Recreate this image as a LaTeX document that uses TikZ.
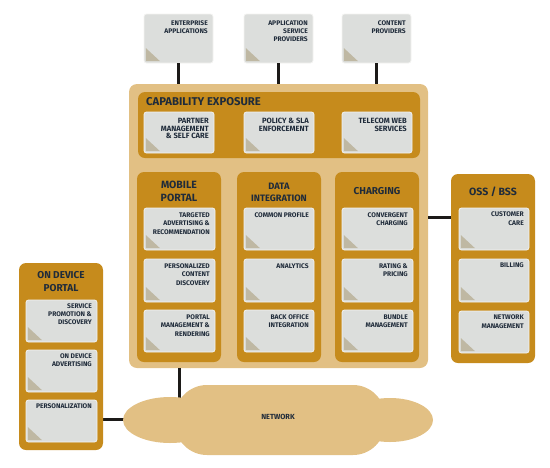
\documentclass[tikz,border=0pt]{standalone}
\usepackage{fontspec}
\setmainfont{Fira Sans}
\usetikzlibrary{calc}
\definecolor{outerc}{HTML}{E2C084}
\definecolor{goldc}{HTML}{C68B1C}
\definecolor{boxc}{HTML}{DCDEDC}
\definecolor{boxedge}{HTML}{F3F3F1}
\definecolor{tric}{HTML}{BFB8A3}
\definecolor{txtc}{HTML}{1F2B3A}
\definecolor{linec}{HTML}{1C1A18}
\tikzset{
  panel/.style={fill=goldc, draw=none, rounded corners=7pt, inner sep=0pt, outer sep=0pt, anchor=north west},
  outerbox/.style={fill=outerc, draw=none, rounded corners=8pt, inner sep=0pt, outer sep=0pt, anchor=north west},
  ibox/.style={fill=boxc, draw=boxedge, line width=0.8pt, rounded corners=2.5pt, anchor=north west, inner sep=0pt, outer sep=0pt},
  tri/.style={fill=tric},
  lbl/.style={anchor=north east, align=right, text=txtc, inner sep=0pt, font=\bfseries\fontsize{6.7}{8.2}\selectfont},
  biglbl/.style={lbl, font=\bfseries\fontsize{7.6}{7.6}\selectfont},
  ttl/.style={text=txtc, align=center, inner sep=0pt},
  conn/.style={draw=linec, line width=3pt},
  cloudc/.style={fill=outerc},
}
% #1 name, #2 x1, #3 y1, #4 x2, #5 y2, #6 text, #7 label style, #8 top offset
\newcommand\cellbox[8]{%
  \node[ibox, minimum width={#4-#2}, minimum height={#5-#3}] (#1) at (#2,#3) {};
  \fill[tri] ($(#1.south west)+(1.8,-2)$) -- ++(0,-13) -- ++(14,13) -- cycle;
  \node[#7] (#1-t) at ($(#1.north east)+(-5,#8)$) {#6};
}
\begin{document}
\begin{tikzpicture}[x=1pt,y=-1pt]
\useasboundingbox (0,0) rectangle (550,467);
% coordinates for connector ends
\coordinate (ossc) at (452,217);
\coordinate (netw) at (130,419);
\coordinate (nett) at (179,400);
% top boxes
\cellbox{ent}{144}{14}{213}{63}{ENTERPRISE\\APPLICATIONS}{lbl}{6.5}
\cellbox{asp}{244}{14}{313}{63}{APPLICATION\\SERVICE\\PROVIDERS}{lbl}{6.5}
\cellbox{cp}{342}{14}{411}{63}{CONTENT\\PROVIDERS}{lbl}{6.5}
% main container
\node[outerbox, minimum width=299, minimum height=284] (main) at (129,84) {};
% connectors
\draw[conn] (ent.south) -- (ent.south |- main.north);
\draw[conn] (asp.south) -- (asp.south |- main.north);
\draw[conn] (cp.south) -- (cp.south |- main.north);
\draw[conn] (ossc -| main.east) -- (ossc);
\draw[conn] (nett |- main.south) -- (nett);
\draw[conn] (netw -| 103,0) -- (netw);
% capability exposure
\node[panel, minimum width=282, minimum height=66] (cap) at (138,92) {};
\node[ttl, anchor=west, font=\bfseries\fontsize{11.3}{12}\selectfont] (capt) at (146,102) {CAPABILITY EXPOSURE};
\cellbox{pm}{144}{112}{214}{153}{PARTNER\\MANAGEMENT\\\& SELF CARE}{biglbl}{6}
\cellbox{pol}{244}{112}{314}{153}{POLICY \& SLA\\ENFORCEMENT}{biglbl}{6}
\cellbox{tws}{342}{112}{412}{153}{TELECOM WEB\\SERVICES}{biglbl}{6}
% mobile portal
\node[panel, minimum width=84, minimum height=190] (mp) at (137,172) {};
\node[ttl, font=\bfseries\fontsize{10.5}{13}\selectfont] (mpt) at (179,191.5) {MOBILE\\PORTAL};
\cellbox{tar}{144}{208}{215}{250}{TARGETED\\ADVERTISING \&\\RECOMMENDATION}{lbl}{4.7}
\cellbox{pcd}{144}{259}{215}{302}{PERSONALIZED\\CONTENT\\DISCOVERY}{lbl}{4.7}
\cellbox{pmr}{144}{310}{215}{352}{PORTAL\\MANAGEMENT \&\\RENDERING}{lbl}{4.7}
% data integration
\node[panel, minimum width=84, minimum height=190] (di) at (237,172) {};
\node[ttl, font=\bfseries\fontsize{9.3}{12}\selectfont] (dit) at (279,192) {DATA\\INTEGRATION};
\cellbox{cpr}{244}{208}{314}{250}{COMMON PROFILE}{lbl}{4.7}
\cellbox{ana}{244}{259}{314}{302}{ANALYTICS}{lbl}{4.7}
\cellbox{boi}{244}{310}{314}{352}{BACK OFFICE\\INTEGRATION}{lbl}{4.7}
% charging
\node[panel, minimum width=84, minimum height=190] (ch) at (335,172) {};
\node[ttl, font=\bfseries\fontsize{10}{12}\selectfont] (cht) at (377,191) {CHARGING};
\cellbox{cc}{342}{208}{413}{250}{CONVERGENT\\CHARGING}{lbl}{4.7}
\cellbox{rp}{342}{259}{413}{302}{RATING \&\\PRICING}{lbl}{4.7}
\cellbox{bm}{342}{310}{413}{352}{BUNDLE\\MANAGEMENT}{lbl}{4.7}
% oss / bss
\node[panel, minimum width=84, minimum height=189] (oss) at (451,174) {};
\node[ttl, font=\bfseries\fontsize{10.5}{12}\selectfont] (osst) at (493,192) {OSS / BSS};
\cellbox{cuc}{459}{208}{529}{250}{CUSTOMER\\CARE}{lbl}{4}
\cellbox{bil}{459}{259}{529}{302}{BILLING}{lbl}{4}
\cellbox{nm}{459}{311}{529}{353}{NETWORK\\MANAGEMENT}{lbl}{4}
% on device portal
\node[panel, minimum width=84, minimum height=187] (odp) at (19,263) {};
\node[ttl, font=\bfseries\fontsize{10}{13}\selectfont] (odpt) at (61,282) {ON DEVICE\\PORTAL};
\cellbox{spd}{26}{300}{97}{342}{SERVICE\\PROMOTION \&\\DISCOVERY}{lbl}{3.5}
\cellbox{oda}{26}{350}{97}{392}{ON DEVICE\\ADVERTISING}{lbl}{3.5}
\cellbox{per}{26}{400}{97}{442}{PERSONALIZATION}{lbl}{3.5}
% network cloud
\fill[cloudc] (170,420) ellipse [x radius=47, y radius=23];
\fill[cloudc] (390,420) ellipse [x radius=43, y radius=22];
\fill[cloudc, rounded corners=32pt] (175,385) rectangle (385,455);
\node[ttl, font=\bfseries\fontsize{7.4}{8}\selectfont] (net) at (278,417) {NETWORK};
\end{tikzpicture}
\end{document}
